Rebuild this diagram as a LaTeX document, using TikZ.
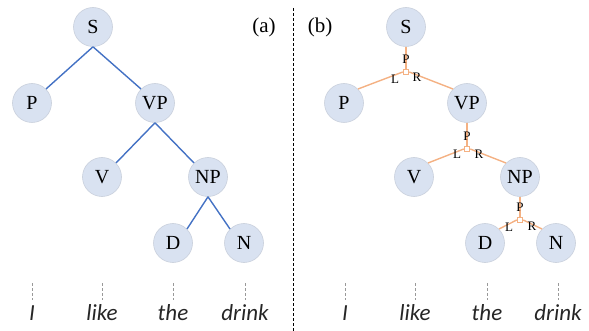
\documentclass[tikz,border=0pt]{standalone}
\usepackage{fontspec}
\setmainfont{Liberation Serif}
\newfontfamily\wordfont{Carlito}
\begin{document}
\begin{tikzpicture}[x=1pt,y=-1pt,
  tnode/.style={circle,fill=nodefill,draw=nodeborder,line width=0.6pt,minimum size=39pt,inner sep=0pt,font=\fontsize{20}{20}\selectfont},
  bline/.style={draw=lineblue,line width=1.4pt},
  oline/.style={draw=lineorange,line width=1.4pt},
  junc/.style={rectangle,draw=lineorange,fill=white,line width=1pt,minimum size=5.5pt,inner sep=0pt},
  lab/.style={font=\fontsize{13}{13}\selectfont,inner sep=0pt},
  word/.style={font=\wordfont\itshape\fontsize{23}{23}\selectfont,inner sep=0pt,text=black!85},
  wdash/.style={draw=gray!80,line width=1pt,dash pattern=on 3pt off 2pt},
]
\definecolor{nodefill}{HTML}{D9E2F1}
\definecolor{nodeborder}{HTML}{C9D0DC}
\definecolor{lineblue}{HTML}{4472C4}
\definecolor{lineorange}{HTML}{F4B183}
\useasboundingbox (0,0) rectangle (589,331);

% divider
\coordinate (dtop) at (293,8);
\coordinate (dbot) at (293,331);
\draw[line width=1pt,dash pattern=on 3pt off 2pt] (dtop) -- (dbot);

% ---------- left tree ----------
\node[font=\fontsize{21}{21}\selectfont] (la) at (264,27) {(a)};
\node[tnode] (aS) at (93,27) {S};
\node[tnode] (aP) at (32,103) {P};
\node[tnode] (aVP) at (155,103) {VP};
\node[tnode] (aV) at (102,177) {V};
\node[tnode] (aNP) at (208,177) {NP};
\node[tnode] (aD) at (173,243) {D};
\node[tnode] (aN) at (244,243) {N};
\draw[bline] (aS.south) -- (aP.north east);
\draw[bline] (aS.south) -- (aVP.north west);
\draw[bline] (aVP.south) -- (aV.north east);
\draw[bline] (aVP.south) -- (aNP.north west);
\draw[bline] (aNP.south) -- (aD.north east);
\draw[bline] (aNP.south) -- (aN.north west);

% ---------- right tree ----------
\node[font=\fontsize{21}{21}\selectfont] (lb) at (320,27) {(b)};
\node[tnode] (bS) at (406,27) {S};
\node[tnode] (bP) at (344,103) {P};
\node[tnode] (bVP) at (467,103) {VP};
\node[tnode] (bV) at (414,177) {V};
\node[tnode] (bNP) at (520,177) {NP};
\node[tnode] (bD) at (485,243) {D};
\node[tnode] (bN) at (556,243) {N};

\node[junc] (j1) at (406,72) {};
\node[junc] (j2) at (467,149) {};
\node[junc] (j3) at (520,220) {};

\draw[oline] (bS.south) -- (j1.north);
\draw[oline] (j1.west) -- (bP.north east);
\draw[oline] (j1.east) -- (bVP.north west);
\draw[oline] (bVP.south) -- (j2.north);
\draw[oline] (j2.west) -- (bV.north east);
\draw[oline] (j2.east) -- (bNP.north west);
\draw[oline] (bNP.south) -- (j3.north);
\draw[oline] (j3.west) -- (bD.north east);
\draw[oline] (j3.east) -- (bN.north west);

\node[lab] (p1) at (406,59) {P};
\node[lab] (l1) at (395,79) {L};
\node[lab] (r1) at (417,77) {R};
\node[lab] (p2) at (467,136) {P};
\node[lab] (l2) at (457,154) {L};
\node[lab] (r2) at (479,154) {R};
\node[lab] (p3) at (520,207) {P};
\node[lab] (l3) at (509,227) {L};
\node[lab] (r3) at (532,226) {R};

% ---------- words ----------
\foreach \nm/\x/\w in {aw1/32/I, aw2/102/like, aw3/173/the, aw4/245/drink,
                       bw1/345/I, bw2/415/like, bw3/487/the, bw4/558/drink}{
  \coordinate (\nm t) at (\x,283);
  \coordinate (\nm b) at (\x,300);
  \draw[wdash] (\nm t) -- (\nm b);
  \node[word] (\nm) at (\x,313) {\w};
}
\end{tikzpicture}
\end{document}
